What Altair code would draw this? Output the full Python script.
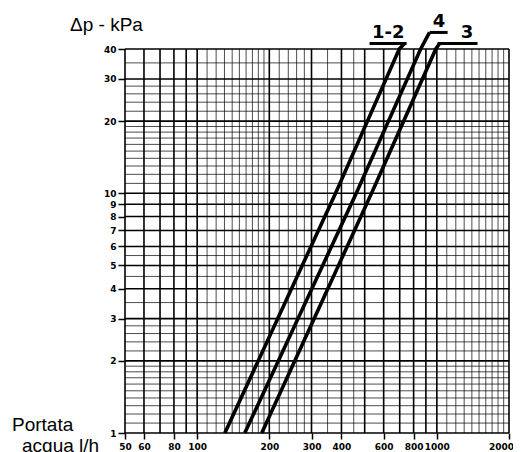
import altair as alt
import pandas as pd

# ---- data ----
series_names = ["1-2", "4", "3"]
flow_12 = [130.5, 378, 697, 734]
dp_12 = [1, 10, 40, 42.2]
flow_4 = [158, 461, 856, 932]
dp_4 = [1, 10, 40, 46.9]
flow_3 = [186, 534, 990, 1027]
dp_3 = [1, 10, 40, 42.2]

# label bars at the top end of each curve
label_x_start = [524, 933, 1007]
label_x_end = [748, 1109, 1478]
label_y = [42.2, 46.9, 42.2]
label_text_x = [627, 1020, 1335]

# axis ticks
x_ticks = [50, 60, 80, 100, 200, 300, 400, 600, 800, 1000, 2000]
y_ticks = [1, 2, 3, 4, 5, 6, 7, 8, 9, 10, 20, 30, 40]

# grid lines
x_grid_major = [50, 60, 70, 80, 90, 100, 200, 300, 400, 500, 600, 700, 800, 900, 1000, 2000]
x_grid_minor = [110, 120, 130, 140, 150, 160, 170, 180, 190,
                220, 240, 260, 280, 350, 450,
                1100, 1200, 1300, 1400, 1500, 1600, 1700, 1800, 1900]
y_grid_major = [1, 2, 3, 4, 5, 6, 7, 8, 9, 10, 20, 30, 40]
y_grid_minor = [1.1, 1.2, 1.3, 1.4, 1.5, 1.6, 1.7, 1.8, 1.9,
                2.2, 2.4, 2.6, 2.8, 3.5, 4.5, 5.5,
                11, 12, 13, 14, 15, 16, 17, 18, 19,
                22, 24, 26, 28, 35]

# ---- tables ----
curves = pd.concat([
    pd.DataFrame({"q": flow_12, "dp": dp_12, "s": series_names[0]}),
    pd.DataFrame({"q": flow_4, "dp": dp_4, "s": series_names[1]}),
    pd.DataFrame({"q": flow_3, "dp": dp_3, "s": series_names[2]}),
], ignore_index=True)
labels = pd.DataFrame({"s": series_names, "x1": label_x_start, "x2": label_x_end,
                       "y": label_y, "tx": label_text_x})

xs = alt.Scale(type="log", domain=[50, 2000], nice=False)
ys = alt.Scale(type="log", domain=[1, 40], nice=False)

tick_font = "DejaVu Sans"

x_axis = alt.Axis(values=x_ticks, format="d", grid=False, domain=False, tickSize=6,
                  tickWidth=1.5, tickColor="black", labelFont=tick_font, labelFontSize=9,
                  labelFontWeight="bold", labelColor="black", labelPadding=3, title=None,
                  labelOverlap=False, labelFlush=False,
                  labelOffset={"condition": {"test": "datum.value == 2000", "value": -8},
                               "value": 0})
y_axis = alt.Axis(values=y_ticks, format="d", grid=False, domain=False, tickSize=7,
                  tickWidth=1.5, tickColor="black", labelFont=tick_font, labelFontSize=9,
                  labelFontWeight="bold", labelColor="black", labelPadding=2, title=None,
                  labelOverlap=False)

vminor = alt.Chart(pd.DataFrame({"v": x_grid_minor})).mark_rule(
    color="black", strokeWidth=1, opacity=0.7).encode(
    x=alt.X("v:Q", scale=xs, axis=x_axis))
vmajor = alt.Chart(pd.DataFrame({"v": x_grid_major})).mark_rule(
    color="black", strokeWidth=1.6).encode(x=alt.X("v:Q", scale=xs))
hminor = alt.Chart(pd.DataFrame({"v": y_grid_minor})).mark_rule(
    color="black", strokeWidth=1, opacity=0.7).encode(
    y=alt.Y("v:Q", scale=ys, axis=y_axis))
hmajor = alt.Chart(pd.DataFrame({"v": y_grid_major})).mark_rule(
    color="black", strokeWidth=1.6).encode(y=alt.Y("v:Q", scale=ys))

lines = alt.Chart(curves).mark_line(color="black", strokeWidth=3.6, strokeCap="butt",
                                    strokeJoin="miter").encode(
    x=alt.X("q:Q", scale=xs), y=alt.Y("dp:Q", scale=ys), detail="s:N", order="dp:Q")

bars = alt.Chart(labels).mark_rule(color="black", strokeWidth=3).encode(
    x=alt.X("x1:Q", scale=xs), x2="x2:Q", y=alt.Y("y:Q", scale=ys))

texts = alt.Chart(labels).mark_text(font="DejaVu Sans", fontWeight="bold", fontSize=18,
                                    color="black", baseline="alphabetic", dy=-5).encode(
    x=alt.X("tx:Q", scale=xs), y=alt.Y("y:Q", scale=ys), text="s:N")

def note(txt, x, y):
    return alt.Chart(pd.DataFrame({"t": [txt]})).mark_text(
        font="Liberation Sans", fontSize=19, color="black", align="left",
        baseline="alphabetic").encode(text="t:N", x=alt.value(x), y=alt.value(y))

chart = alt.layer(
    vminor, hminor, vmajor, hmajor, lines, bars, texts,
    note("Δp - kPa", -55, -18),
    note("Portata", -113, 382),
    note("acqua l/h", -103, 403),
).properties(
    width=384, height=384,
    padding={"left": 117, "top": 41, "right": 4, "bottom": 19},
    autosize=alt.AutoSizeParams(type="none"),
).configure_view(stroke=None)

chart.save("out.html", embed_options={"renderer": "svg", "actions": False})
